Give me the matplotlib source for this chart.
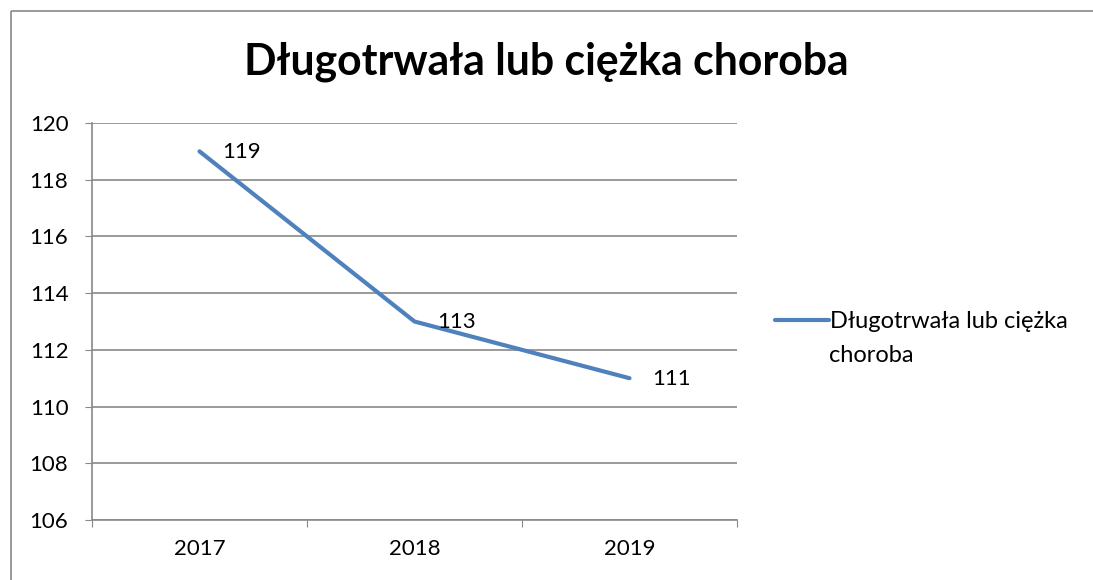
import matplotlib.pyplot as plt
from matplotlib.lines import Line2D

years = ['2017', '2018', '2019']
values = [119, 113, 111]
series_name = 'Długotrwała lub ciężka choroba'
legend_lines = ['Długotrwała lub ciężka', 'choroba']
y_ticks = [106, 108, 110, 112, 114, 116, 118, 120]

plt.rcParams['font.family'] = ['Lato', 'DejaVu Sans']

W, H = 1093, 580
fig = plt.figure(figsize=(W / 100, H / 100), dpi=100)

# chart area border (Excel style frame, runs off the right/bottom edge)
border = '#898989'
fig.add_artist(Line2D([11 / W, 11 / W], [-0.05, 1 - 11 / H], transform=fig.transFigure,
                      color=border, linewidth=1.2, solid_capstyle='butt'))
fig.add_artist(Line2D([11 / W, 1.05], [1 - 11 / H, 1 - 11 / H], transform=fig.transFigure,
                      color=border, linewidth=1.2, solid_capstyle='butt'))

ax = fig.add_axes([92 / W, 1 - 520 / H, (737 - 92) / W, (520 - 123) / H])

color = '#4F81BD'
x = list(range(len(years)))
ax.plot(x, values, color=color, linewidth=3.0, solid_capstyle='round', label=legend_lines[0])
for xi, v in zip(x, values):
    ax.annotate(str(v), (xi, v), xytext=(23, -1), textcoords='offset pixels',
                fontsize=16, va='center', ha='left', color='black')

ax.set_xlim(-0.5, 2.5)
ax.set_ylim(106, 120)
ax.set_yticks(y_ticks)
ax.set_xticks([-0.5, 0.5, 1.5, 2.5])
ax.set_xticklabels([])
ax.set_xticks(x, minor=True)
ax.set_xticklabels(years, minor=True)
ax.tick_params(axis='x', which='minor', length=0, pad=14, labelsize=16)
ax.tick_params(axis='x', which='major', length=5, color=border, direction='out')
ax.tick_params(axis='y', length=5, color=border, labelsize=16, pad=12)

ax.grid(axis='y', color=border, linewidth=1.2)
ax.set_axisbelow(True)
for side in ['top', 'right']:
    ax.spines[side].set_visible(False)
for side in ['left', 'bottom']:
    ax.spines[side].set_color(border)
    ax.spines[side].set_linewidth(1.2)

fig.text(546 / W, 1 - 62 / H, series_name, ha='center', va='center',
         fontsize=30.8, fontweight='bold')

# legend: handle sits on the first line, label wraps onto a second line
leg = ax.legend(loc='center left', bbox_to_anchor=(775 / W, 1 - 322 / H),
                bbox_transform=fig.transFigure, frameon=False, fontsize=17,
                handlelength=2.3, handletextpad=0.05, borderpad=0, borderaxespad=0)
fig.text(829 / W, 1 - 356 / H, legend_lines[1], ha='left', va='center', fontsize=17)

fig.savefig('out.png', dpi=100)
